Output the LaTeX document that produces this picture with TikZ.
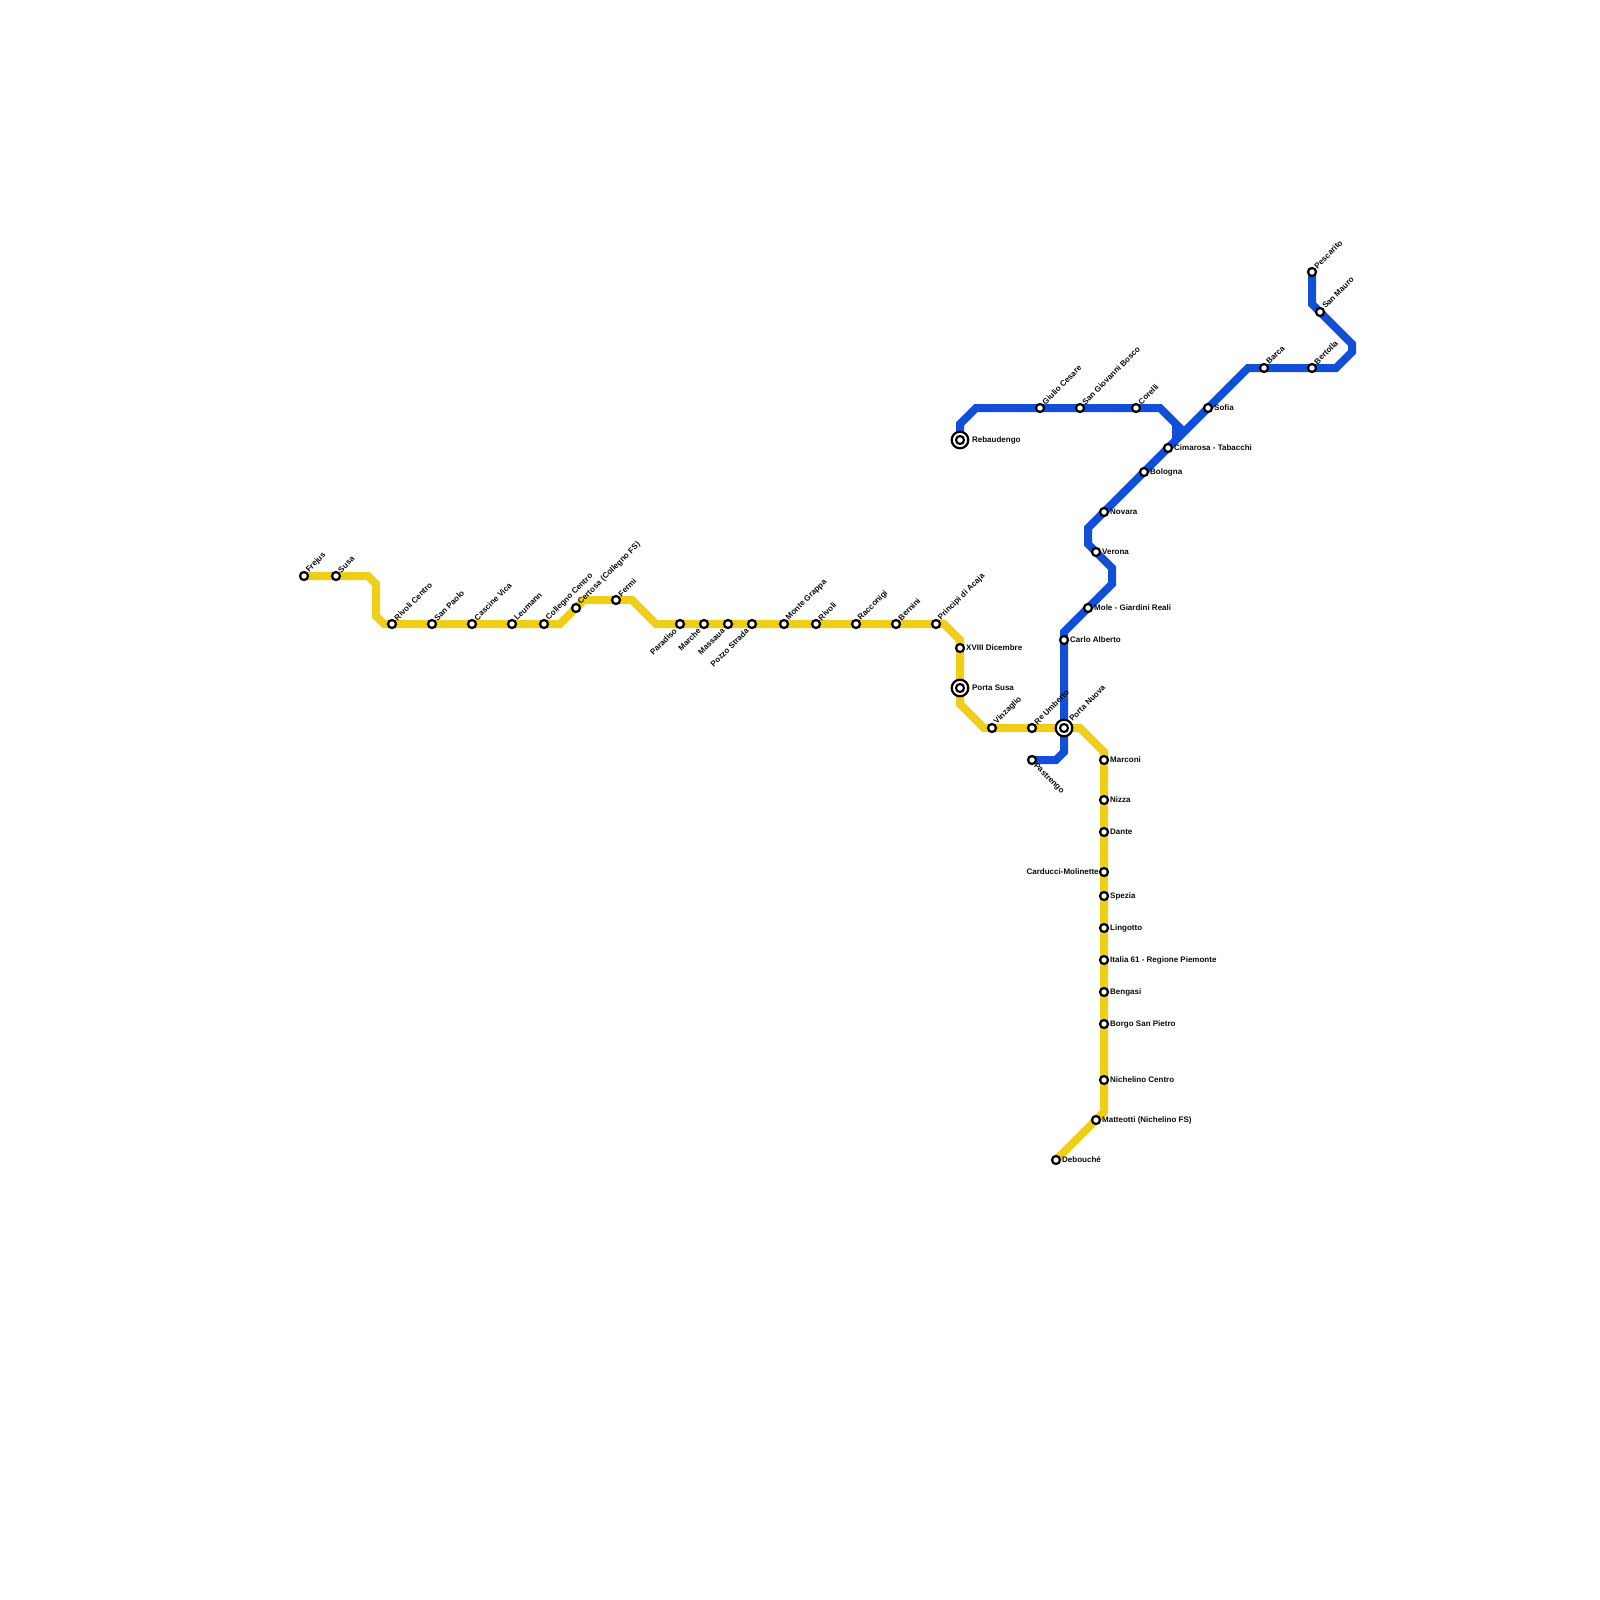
\documentclass[tikz,border=0pt]{standalone}
\usepackage{fontspec}
\setmainfont{Liberation Sans}
\usetikzlibrary{positioning}
\definecolor{yellowline}{RGB}{240, 206, 21}
\definecolor{blueline}{RGB}{17, 79, 217}
\definecolor{labelcolor}{RGB}{10, 10, 10}
\tikzset{
metroline/.style={
  line width=8pt,
  line join=miter,
  miter limit=4
},
station/.style={
  circle,
  draw=black,
  fill=white,
  line width=2.2pt,
  minimum size=8pt,
  inner sep=0pt,
  outer sep=0pt
},
interchange/.style={
  station,
  minimum size=16.6pt
},
stationlabel/.style={
  font=\bfseries\fontsize{8}{10}\selectfont,
  text=labelcolor,
  inner sep=0pt
},
uplabel/.style={
  stationlabel,
  rotate=45,
  anchor=west,
  xshift=1.8pt,
  yshift=1pt
},
downlabel/.style={
  stationlabel,
  rotate=45,
  anchor=east,
  xshift=-3pt,
  yshift=-0.6pt
},
drop/.style={
  stationlabel,
  rotate=-45,
  anchor=west,
  xshift=1.3pt,
  yshift=-1.3pt
}
}
\begin{document}
\begin{tikzpicture}[x=1pt,y=-1pt]
  \useasboundingbox (0,0) rectangle (1600,1600);

  \coordinate (ybend1) at (368,576);
  \coordinate (ybend2) at (376,584);
  \coordinate (ybend3) at (376,616);
  \coordinate (ybend4) at (384,624);
  \coordinate (ybend5) at (560,624);
  \coordinate (ybend6) at (584,600);
  \coordinate (ybend7) at (632,600);
  \coordinate (ybend8) at (656,624);
  \coordinate (ybend9) at (944,624);
  \coordinate (ybend10) at (960,640);
  \coordinate (ybend11) at (960,704);
  \coordinate (ybend12) at (984,728);
  \coordinate (ybend13) at (1080,728);
  \coordinate (ybend14) at (1104,752);
  \coordinate (ybend15) at (1104,1112);

  \coordinate (bbend1) at (960,424);
  \coordinate (bbend2) at (976,408);
  \coordinate (bbend3) at (1160,408);
  \coordinate (bbend4) at (1176,424);
  \coordinate (bbend5) at (1176,440);
  \coordinate (bbend6) at (1088,528);
  \coordinate (bbend7) at (1088,544);
  \coordinate (bbend8) at (1112,568);
  \coordinate (bbend9) at (1112,584);
  \coordinate (bbend10) at (1064,632);
  \coordinate (bbend11) at (1064,752);
  \coordinate (bbend12) at (1056,760);
  \coordinate (bbend13) at (1248,368);
  \coordinate (bbend14) at (1336,368);
  \coordinate (bbend15) at (1352,352);
  \coordinate (bbend16) at (1352,344);
  \coordinate (bbend17) at (1312,304);
  \coordinate (bjoin) at (1184,432);

  \coordinate (frejuspos) at (304,576);
  \coordinate (debouchepos) at (1056,1160);
  \coordinate (rebaudengopos) at (960,440);
  \coordinate (pastrengopos) at (1032,760);
  \coordinate (pescaritopos) at (1312,272);

  \draw[metroline, draw=yellowline] (frejuspos) -- (ybend1) -- (ybend2) -- (ybend3) -- (ybend4) -- (ybend5) -- (ybend6) -- (ybend7) -- (ybend8) -- (ybend9) -- (ybend10) -- (ybend11) -- (ybend12) -- (ybend13) -- (ybend14) -- (ybend15) -- (debouchepos);
  \draw[metroline, draw=blueline] (rebaudengopos) -- (bbend1) -- (bbend2) -- (bbend3) -- (bjoin);
  \draw[metroline, draw=blueline] (bbend4) -- (bbend5);
  \draw[metroline, draw=blueline] (pastrengopos) -- (bbend12) -- (bbend11) -- (bbend10) -- (bbend9) -- (bbend8) -- (bbend7) -- (bbend6) -- (bbend13) -- (bbend14) -- (bbend15) -- (bbend16) -- (bbend17) -- (pescaritopos);

  \node[station] (frejus) at (frejuspos) {};
  \node[station] (susa) at (336,576) {};
  \node[station] (rivolicentro) at (392,624) {};
  \node[station] (sanpaolo) at (432,624) {};
  \node[station] (cascinevica) at (472,624) {};
  \node[station] (leumann) at (512,624) {};
  \node[station] (collegno) at (544,624) {};
  \node[station] (certosa) at (576,608) {};
  \node[station] (fermi) at (616,600) {};
  \node[station] (paradiso) at (680,624) {};
  \node[station] (marche) at (704,624) {};
  \node[station] (massaua) at (728,624) {};
  \node[station] (pozzostrada) at (752,624) {};
  \node[station] (montegrappa) at (784,624) {};
  \node[station] (rivoli) at (816,624) {};
  \node[station] (racconigi) at (856,624) {};
  \node[station] (bernini) at (896,624) {};
  \node[station] (principi) at (936,624) {};
  \node[station] (dicembre) at (960,648) {};
  \node[interchange] (portasusa) at (960,688) {};
  \node[station] (portasusain) at (960,688) {};
  \node[station] (vinzaglio) at (992,728) {};
  \node[station] (reumberto) at (1032,728) {};
  \node[interchange] (portanuova) at (1064,728) {};
  \node[station] (portanuovain) at (1064,728) {};
  \node[station] (marconi) at (1104,760) {};
  \node[station] (nizza) at (1104,800) {};
  \node[station] (dante) at (1104,832) {};
  \node[station] (carducci) at (1104,872) {};
  \node[station] (spezia) at (1104,896) {};
  \node[station] (lingotto) at (1104,928) {};
  \node[station] (italia) at (1104,960) {};
  \node[station] (bengasi) at (1104,992) {};
  \node[station] (borgo) at (1104,1024) {};
  \node[station] (nichelino) at (1104,1080) {};
  \node[station] (matteotti) at (1096,1120) {};
  \node[station] (debouche) at (debouchepos) {};

  \node[interchange] (rebaudengo) at (rebaudengopos) {};
  \node[station] (rebaudengoin) at (rebaudengopos) {};
  \node[station] (giulio) at (1040,408) {};
  \node[station] (giovanni) at (1080,408) {};
  \node[station] (corelli) at (1136,408) {};
  \node[station] (pastrengo) at (pastrengopos) {};
  \node[station] (carloalberto) at (1064,640) {};
  \node[station] (mole) at (1088,608) {};
  \node[station] (verona) at (1096,552) {};
  \node[station] (novara) at (1104,512) {};
  \node[station] (bologna) at (1144,472) {};
  \node[station] (cimarosa) at (1168,448) {};
  \node[station] (sofia) at (1208,408) {};
  \node[station] (barca) at (1264,368) {};
  \node[station] (bertolla) at (1312,368) {};
  \node[station] (sanmauro) at (1320,312) {};
  \node[station] (pescarito) at (pescaritopos) {};

  \node[uplabel] (frejuslabel) at (frejus.45) {Frejus};
  \node[uplabel] (susalabel) at (susa.45) {Susa};
  \node[uplabel] (rivolicentrolabel) at (rivolicentro.45) {Rivoli Centro};
  \node[uplabel] (sanpaololabel) at (sanpaolo.45) {San Paolo};
  \node[uplabel] (cascinevicalabel) at (cascinevica.45) {Cascine Vica};
  \node[uplabel] (leumannlabel) at (leumann.45) {Leumann};
  \node[uplabel] (collegnolabel) at (collegno.45) {Collegno Centro};
  \node[uplabel] (certosalabel) at (certosa.45) {Certosa (Collegno FS)};
  \node[uplabel] (fermilabel) at (fermi.45) {Fermi};
  \node[downlabel] (paradisolabel) at (paradiso.225) {Paradiso};
  \node[downlabel] (marchelabel) at (marche.225) {Marche};
  \node[downlabel] (massaualabel) at (massaua.225) {Massaua};
  \node[downlabel] (pozzostradalabel) at (pozzostrada.225) {Pozzo Strada};
  \node[uplabel] (montegrappalabel) at (montegrappa.45) {Monte Grappa};
  \node[uplabel] (rivolilabel) at (rivoli.45) {Rivoli};
  \node[uplabel] (racconigilabel) at (racconigi.45) {Racconigi};
  \node[uplabel] (berninilabel) at (bernini.45) {Bernini};
  \node[uplabel] (principilabel) at (principi.45) {Principi di Acaja};
  \node[stationlabel, right=2pt of dicembre] (dicembrelabel) {XVIII Dicembre};
  \node[stationlabel, right=3.6pt of portasusa] (portasusalabel) {Porta Susa};
  \node[uplabel] (vinzagliolabel) at (vinzaglio.45) {Vinzaglio};
  \node[uplabel] (reumbertolabel) at (reumberto.45) {Re Umberto};
  \node[uplabel] (portanuovalabel) at (portanuova.45) {Porta Nuova};
  \node[stationlabel, right=2pt of marconi] (marconilabel) {Marconi};
  \node[stationlabel, right=2pt of nizza] (nizzalabel) {Nizza};
  \node[stationlabel, right=2pt of dante] (dantelabel) {Dante};
  \node[stationlabel, left=1.2pt of carducci] (carduccilabel) {Carducci-Molinette};
  \node[stationlabel, right=2pt of spezia] (spezialabel) {Spezia};
  \node[stationlabel, right=2pt of lingotto] (lingottolabel) {Lingotto};
  \node[stationlabel, right=2pt of italia] (italialabel) {Italia 61 - Regione Piemonte};
  \node[stationlabel, right=2pt of bengasi] (bengasilabel) {Bengasi};
  \node[stationlabel, right=2pt of borgo] (borgolabel) {Borgo San Pietro};
  \node[stationlabel, right=2pt of nichelino] (nichelinolabel) {Nichelino Centro};
  \node[stationlabel, right=2pt of matteotti] (matteottilabel) {Matteotti (Nichelino FS)};
  \node[stationlabel, right=2pt of debouche] (debouchelabel) {Debouché};

  \node[stationlabel, right=3.6pt of rebaudengo] (rebaudengolabel) {Rebaudengo};
  \node[uplabel] (giuliolabel) at (giulio.45) {Giulio Cesare};
  \node[uplabel] (giovannilabel) at (giovanni.45) {San Giovanni Bosco};
  \node[uplabel] (corellilabel) at (corelli.45) {Corelli};
  \node[drop] (pastrengolabel) at (pastrengo.-45) {Pastrengo};
  \node[stationlabel, right=2pt of carloalberto] (carloalbertolabel) {Carlo Alberto};
  \node[stationlabel, right=2pt of mole] (molelabel) {Mole - Giardini Reali};
  \node[stationlabel, right=2pt of verona] (veronalabel) {Verona};
  \node[stationlabel, right=2pt of novara] (novaralabel) {Novara};
  \node[stationlabel, right=2pt of bologna] (bolognalabel) {Bologna};
  \node[stationlabel, right=2pt of cimarosa] (cimarosalabel) {Cimarosa - Tabacchi};
  \node[stationlabel, right=2pt of sofia] (sofialabel) {Sofia};
  \node[uplabel] (barcalabel) at (barca.45) {Barca};
  \node[uplabel] (bertollalabel) at (bertolla.45) {Bertolla};
  \node[uplabel] (sanmaurolabel) at (sanmauro.45) {San Mauro};
  \node[uplabel] (pescaritolabel) at (pescarito.45) {Pescarito};
\end{tikzpicture}
\end{document}
